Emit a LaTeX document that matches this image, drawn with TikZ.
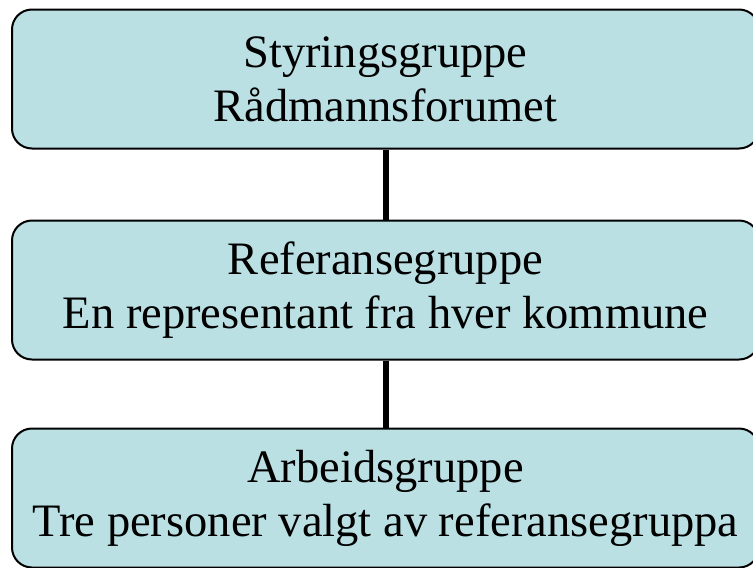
\documentclass[tikz,border=0pt]{standalone}
\usepackage{fontspec}
\setmainfont{Liberation Serif}
\usepackage{tikz}
\usetikzlibrary{calc}
\definecolor{boxfill}{RGB}{186,224,228}
\def\drawlink{\draw[color=black, line width=6pt]}
\def\groupnode{\node[group box]}

\begin{document}
\begin{tikzpicture}[x=1pt,y=1pt,inner sep=0pt,
  group box/.style={draw=black, line width=2pt, fill=boxfill, rounded corners=20pt,
    minimum width=747pt, minimum height=139pt, align=center,
    font=\fontsize{46.5}{54}\selectfont}]
\clip (0,0) rectangle (753,-568);
\coordinate (o) at (385.5,0);

% The three groups, top to bottom
\groupnode (styring) at ($ (o) + (0,-79) $) {Styringsgruppe\\Rådmannsforumet};
\groupnode (referanse) at ($ (o) + (0,-290) $) {Referansegruppe\\En representant fra hver kommune};
\groupnode (arbeid) at ($ (o) + (0,-498) $) {Arbeidsgruppe\\Tre personer valgt av referansegruppa};

% Links between the groups
\drawlink (styring.south) to (referanse.north);
\drawlink (referanse.south) to (arbeid.north);
\end{tikzpicture}
\end{document}
